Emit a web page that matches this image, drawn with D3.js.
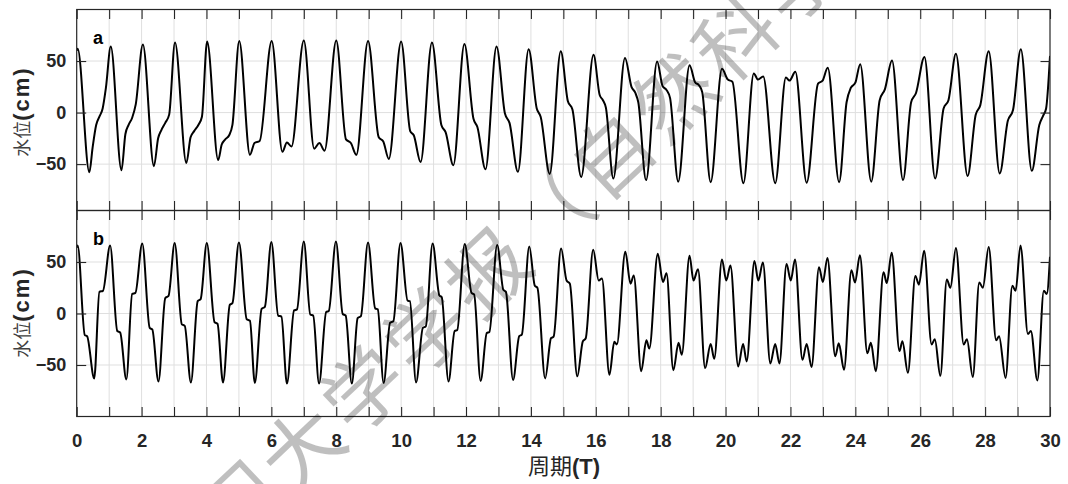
<!DOCTYPE html>
<html><head><meta charset="utf-8">
<script src="https://cdn.jsdelivr.net/npm/d3@7"></script>
<style>body{margin:0;background:#fff}svg{display:block}</style>
</head><body><svg id="c" width="1068" height="484"></svg>
<script>
// ---------- data ----------
const tA = [0.00,0.03,0.39,0.49,0.60,0.70,0.80,0.90,1.05,1.38,1.50,1.60,1.71,1.82,2.04,2.38,2.51,2.61,2.73,2.85,3.03,3.38,3.51,3.62,3.75,3.86,4.02,4.36,4.47,4.58,4.70,4.80,5.01,5.34,5.48,5.64,6.01,6.34,6.48,6.62,7.00,7.32,7.48,7.64,8.00,8.30,8.45,8.62,8.98,9.31,9.45,9.62,10.00,10.28,10.39,10.60,10.95,11.24,11.37,11.61,11.95,12.23,12.35,12.60,12.94,13.20,13.34,13.60,13.93,14.18,14.30,14.58,14.92,15.14,15.28,15.55,15.93,16.12,16.22,16.31,16.54,16.90,17.10,17.22,17.31,17.55,17.89,18.06,18.18,18.29,18.54,18.89,19.06,19.18,19.28,19.54,19.89,20.07,20.21,20.55,20.87,21.00,21.16,21.53,21.86,21.97,22.15,22.50,22.85,22.99,23.15,23.50,23.73,23.86,24.00,24.15,24.49,24.75,24.91,25.13,25.47,25.72,25.87,26.13,26.46,26.72,26.87,27.10,27.46,27.71,27.85,28.11,28.45,28.70,28.86,29.10,29.44,29.67,29.79,29.88,30.00];
const levelA = [60,62,-58,-34,-12,-4,4,24,64,-56,-21,-12,-5,8,66,-52,-25,-17,-10,-2,68,-49,-24,-18,-12,-4,69,-46,-31,-26,-22,-12,69.5,-41,-29.5,-27.5,69.5,-38,-29,-33,70,-35,-29.5,-37,70,-26,-29.5,-41,69.5,-24,-28,-45,69,-18,-22,-48,68,-12,-19,-51,66.5,-6,-14,-55,64,-1,-10,-57.5,61.5,4,-4,-59.5,59.5,11,3,-62.5,56,17,12,5,-64,53,25,19,10,-65.5,49.5,25.5,22,14,-67,46,29.5,26.5,20,-67.5,42.5,32,30,-68.5,38,32,35,-68.5,34,31,39.5,-68,28,31,43.5,-67.5,10,24,29,47,-67,12,22.5,50.5,-65.5,10,19,54,-64,4,12,57,-61.5,-2,7,59.5,-59,-8,2.5,61.5,-56.5,-12,-3,4,55];
const tB = [0.00,0.03,0.25,0.32,0.54,0.70,0.81,1.03,1.25,1.34,1.53,1.71,1.81,2.02,2.25,2.33,2.52,2.73,2.83,3.02,3.24,3.33,3.52,3.73,3.82,4.01,4.25,4.34,4.51,4.72,4.80,5.00,5.24,5.34,5.49,5.70,5.80,6.00,6.21,6.31,6.48,6.70,6.79,7.00,7.20,7.29,7.47,7.69,7.77,7.99,8.20,8.29,8.48,8.66,8.76,8.98,9.20,9.28,9.46,9.66,9.76,9.98,10.20,10.27,10.46,10.67,10.76,10.97,11.18,11.25,11.46,11.65,11.73,11.96,12.17,12.25,12.45,12.64,12.72,12.96,13.15,13.23,13.45,13.64,13.72,13.95,14.12,14.20,14.44,14.62,14.70,14.93,15.10,15.20,15.43,15.60,15.69,15.92,16.09,16.19,16.42,16.57,16.65,16.91,17.07,17.17,17.40,17.56,17.65,17.91,18.07,18.18,18.39,18.55,18.65,18.89,19.01,19.15,19.37,19.54,19.65,19.89,20.02,20.15,20.39,20.54,20.65,20.89,21.01,21.15,21.38,21.53,21.66,21.88,22.01,22.14,22.37,22.50,22.65,22.88,23.00,23.14,23.38,23.49,23.65,23.88,23.99,24.14,24.37,24.48,24.63,24.87,24.97,25.12,25.36,25.45,25.62,25.85,25.96,26.12,26.35,26.45,26.62,26.82,26.93,27.10,27.34,27.44,27.62,27.82,27.93,28.11,28.34,28.43,28.63,28.84,28.94,29.09,29.32,29.41,29.61,29.81,29.90,30.00];
const levelB = [64,66,-21,-22,-63,21,22,66,-17,-18.5,-64,19,20,68,-14,-15.5,-66,15,17,68.5,-10.5,-12,-67,12,14,68.5,-8.5,-10,-67,8.5,10,69,-5.5,-7,-67.5,4.5,6.5,69.5,-2,-3,-68,3,4,70,-1,-2,-68,1.5,2.5,70,-0.5,-2,-68,-4.5,-2.5,69,5,4,-67.5,-9,-7.5,68.5,12.5,12,-67,-14,-12.5,68,17.5,16,-66,-17,-16,67.5,20,18.5,-65.5,-19,-18,66.5,23,21,-64.5,-22,-20.5,65,27,25,-63,-24,-22.5,63,32,29,-61,-27,-24,62,32,34,-59.5,-27.5,-30,60,29,37,-56,-26,-34,58,30.5,39,-55,-28.5,-40,56,32,43,-53,-29.5,-44,52.5,32,46.5,-51.5,-29.5,-46.5,51,32,49.5,-48.5,-29.5,-48.5,48,32,52.5,-45,-29.5,-52,45,30.5,54,-41.5,-29,-54.5,42,30,56.5,-38.5,-28.5,-56,40,29.5,59,-36.5,-27,-57.5,36.5,28,61,-30,-25,-60.5,33,25,63.5,-30,-25,-61.5,30,25,64.5,-26,-22,-62.5,27,22,66,-20,-17,-65,22,19,55];
const xTicks = [0,1,2,3,4,5,6,7,8,9,10,11,12,13,14,15,16,17,18,19,20,21,22,23,24,25,26,27,28,29,30];
const xLabelTicks = [0,2,4,6,8,10,12,14,16,18,20,22,24,26,28,30];
const yTicks = [-50,0,50];
const panelNames = ["a","b"];
const yTitle = ["水位","(cm)"];
const xTitle = ["周期","(T)"];
const watermark = "厦门大学学报（自然科学版）";

// ---------- layout ----------
const svg = d3.select("#c");
const L = 76.7, R = 1050, TICK = 9.5;
const AX = "#262626", GRID = "#dfdfdf";
const LAT = "'Liberation Sans', Arial, sans-serif";
const CJK = "'Noto Sans CJK SC', sans-serif";
const x = d3.scaleLinear().domain([0,30]).range([L,R]);
const panels = [
  {top:9.5, bottom:210.5, dom:[-95,100], t:tA, v:levelA},
  {top:210.5, bottom:416.5, dom:[-100,100], t:tB, v:levelB}
];

panels.forEach((p,i)=>{
  const y = d3.scaleLinear().domain(p.dom).range([p.bottom,p.top]);
  const g = svg.append("g");
  g.append("rect").attr("x",L).attr("y",p.top).attr("width",R-L).attr("height",p.bottom-p.top).attr("fill","#fff");
  g.append("g").selectAll("line").data(xTicks.slice(1,-1)).join("line")
    .attr("x1",d=>x(d)).attr("x2",d=>x(d)).attr("y1",p.top).attr("y2",p.bottom)
    .attr("stroke",GRID).attr("stroke-width",1);
  g.append("g").selectAll("line").data(yTicks).join("line")
    .attr("x1",L).attr("x2",R).attr("y1",d=>y(d)).attr("y2",d=>y(d))
    .attr("stroke",GRID).attr("stroke-width",1);
  const cid = "clip"+i;
  svg.append("clipPath").attr("id",cid).append("rect").attr("x",L).attr("y",p.top).attr("width",R-L).attr("height",p.bottom-p.top);
  const pts = p.t.map((t,k)=>[t,p.v[k]]);
  g.append("path").datum(pts).attr("clip-path",`url(#${cid})`)
    .attr("d",d3.line().x(d=>x(d[0])).y(d=>y(d[1])).curve(d3.curveMonotoneX))
    .attr("fill","none").attr("stroke","#000").attr("stroke-width",2).attr("stroke-linejoin","round");
  p.y = y;
});

panels.forEach((p,i)=>{
  const g = svg.append("g");
  const style = sel => { sel.select(".domain").remove(); sel.selectAll(".tick line").attr("stroke",AX).attr("stroke-width",1.1); };
  g.append("g").attr("transform",`translate(0,${p.top})`)
    .call(d3.axisTop(x).tickValues(xTicks).tickSizeInner(-TICK).tickSizeOuter(0).tickFormat("")).call(style);
  const bottomAxis = d3.axisBottom(x).tickValues(xTicks).tickSizeInner(-TICK).tickSizeOuter(0).tickPadding(17.8)
    .tickFormat(d => (i===1 && xLabelTicks.includes(d)) ? d : "");
  const gb = g.append("g").attr("transform",`translate(0,${p.bottom})`).call(bottomAxis).call(style);
  gb.selectAll("text").attr("font-family",LAT).attr("font-weight","bold").attr("font-size",18.5).attr("fill",AX);
  const gl = g.append("g").attr("transform",`translate(${L},0)`)
    .call(d3.axisLeft(p.y).tickValues(yTicks).tickSizeInner(-TICK).tickSizeOuter(0).tickPadding(10.5)).call(style);
  gl.selectAll("text").attr("font-family",LAT).attr("font-weight","bold").attr("font-size",18).attr("fill",AX);
  g.append("g").attr("transform",`translate(${R},0)`)
    .call(d3.axisRight(p.y).tickValues(yTicks).tickSizeInner(-TICK).tickSizeOuter(0).tickFormat("")).call(style);
  g.append("rect").attr("x",L).attr("y",p.top).attr("width",R-L).attr("height",p.bottom-p.top)
    .attr("fill","none").attr("stroke",AX).attr("stroke-width",1.2);
  g.append("text").attr("x",93).attr("y",p.top+34).text(panelNames[i])
    .attr("font-family",LAT).attr("font-weight","bold").attr("font-size",18).attr("fill","#000");
  const yc = p.y(0)-1;
  const yt = g.append("text").attr("transform",`translate(29,${yc}) rotate(-90)`).attr("text-anchor","middle").attr("fill","#404040");
  yt.append("tspan").attr("font-family",CJK).attr("font-size",18).text(yTitle[0]);
  yt.append("tspan").attr("font-family",LAT).attr("font-weight","bold").attr("font-size",22).attr("letter-spacing",2).attr("fill",AX).text(yTitle[1]);
});

const xt = svg.append("text").attr("x",564).attr("y",474).attr("text-anchor","middle").attr("fill",AX);
xt.append("tspan").attr("font-family",CJK).attr("font-size",22).text(xTitle[0]);
xt.append("tspan").attr("font-family",LAT).attr("font-weight","bold").attr("font-size",22).text(xTitle[1]);

// watermark: characters along a diagonal line, only those that fall on the page
const wmChars = Array.from(watermark);
const wmMid = 6, wmCx = 546, wmCy = 210, wmDx = 62, wmDy = -58.5;
const wm = svg.append("g").attr("fill","#000").attr("fill-opacity",0.25);
wmChars.forEach((ch,k)=>{
  const cx = wmCx + (k-wmMid)*wmDx, cy = wmCy + (k-wmMid)*wmDy;
  if (cx < 150 || cx > 860 || cy < -70 || cy > 560) return;
  wm.append("text").attr("transform",`translate(${cx},${cy}) rotate(-43.3)`)
    .attr("text-anchor","middle").attr("dominant-baseline","central")
    .attr("font-family",CJK).attr("font-size",80).text(ch);
});
</script></body></html>
